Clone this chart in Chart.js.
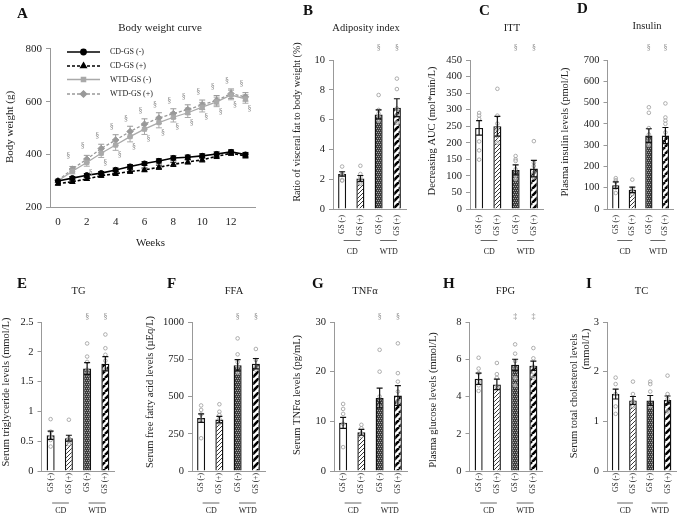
<!DOCTYPE html>
<html>
<head>
<meta charset="utf-8">
<script src="https://cdn.jsdelivr.net/npm/chart.js@4.4.1/dist/chart.umd.min.js"></script>
<style>
  body { margin: 0; background: #fff; }
  #fig { position: relative; width: 681px; height: 515px; overflow: hidden; }
  #fig canvas { position: absolute; left: 0; top: 0; }
</style>
</head>
<body>
<div id="fig">
  <canvas id="cA" width="681" height="515"></canvas>
  <canvas id="cB" width="681" height="515"></canvas>
  <canvas id="cC" width="681" height="515"></canvas>
  <canvas id="cD" width="681" height="515"></canvas>
  <canvas id="cE" width="681" height="515"></canvas>
  <canvas id="cF" width="681" height="515"></canvas>
  <canvas id="cG" width="681" height="515"></canvas>
  <canvas id="cH" width="681" height="515"></canvas>
  <canvas id="cI" width="681" height="515"></canvas>
</div>
<script>
// ---- data: body weight curve (panel A) ----
const weeks = [0, 1, 2, 3, 4, 5, 6, 7, 8, 9, 10, 11, 12, 13];
const weekTicks = [0, 2, 4, 6, 8, 10, 12];
const bwCdMinus = [300, 311, 322, 330, 342, 355, 366, 376, 387, 390, 395, 402, 410, 400];
const bwCdPlus = [290, 297, 308, 320, 328, 336, 342, 352, 363, 372, 380, 393, 405, 395];
const bwWtdMinus = [300, 337, 370, 405, 436, 468, 496, 521, 541, 558, 579, 599, 625, 610];
const bwWtdPlus = [302, 345, 383, 423, 455, 487, 515, 538, 555, 570, 588, 605, 630, 618];
const bwCdMinusSem = [5, 6, 6, 6, 7, 7, 7, 8, 8, 8, 8, 8, 8, 8];
const bwCdPlusSem = [5, 6, 6, 6, 7, 7, 7, 8, 8, 8, 8, 8, 8, 8];
const bwWtdMinusSem = [6, 10, 14, 16, 20, 20, 20, 20, 18, 18, 18, 18, 18, 16];
const bwWtdPlusSem = [6, 10, 14, 16, 20, 20, 20, 20, 18, 18, 18, 18, 18, 16];
const bwSigAbove = ['', '§', '§', '§', '§', '§', '§', '§', '§', '§', '§', '§', '§', '§'];
const bwSigBelow = ['', '', '§', '§', '§', '§', '§', '§', '§', '§', '§', '§', '§', '§'];

// ---- data: bar panels ----
const groups = ['CD GS (-)', 'CD GS (+)', 'WTD GS (-)', 'WTD GS (+)'];
const gsLabels = ['GS (-)', 'GS (+)', 'GS (-)', 'GS (+)'];
const dietLabels = ['CD', 'WTD'];

const adiposityMean = [2.35, 2.05, 6.35, 6.8];
const adipositySem = [0.15, 0.2, 0.3, 0.6];
const adiposityDots = [[2.85, 2.4, 2.3, 1.95, 1.9], [2.9, 2.35, 2.15, 1.8, 1.7], [7.65, 6.65, 6.4, 6.2, 5.9], [8.75, 8.05, 6.75, 6.3, 5.8]];
const adipositySig = ['', '', '§', '§'];

const ittMean = [245, 250, 118, 122];
const ittSem = [22, 30, 15, 25];
const ittDots = [[290, 282, 272, 204, 177, 149], [363, 282, 258, 240, 220, 200], [160, 150, 145, 120, 100, 90], [205, 140, 130, 110, 95]];
const ittSig = ['', '', '§', '§'];

const insulinMean = [112, 90, 345, 345];
const insulinSem = [15, 13, 32, 38];
const insulinDots = [[145, 135, 128, 100, 75], [138, 95, 80, 70], [478, 452, 380, 350, 320, 300], [496, 430, 415, 400, 360]];
const insulinSig = ['', '', '§', '§'];

const tgMean = [0.6, 0.55, 1.72, 1.8];
const tgSem = [0.07, 0.05, 0.1, 0.12];
const tgDots = [[0.87, 0.66, 0.58, 0.52, 0.41], [0.86, 0.55, 0.5, 0.45], [2.14, 1.92, 1.83, 1.7, 1.64], [2.29, 2.06, 1.95, 1.85, 1.7]];
const tgSig = ['', '', '§', '§'];

const ffaMean = [355, 345, 710, 720];
const ffaSem = [28, 22, 38, 35];
const ffaDots = [[440, 410, 380, 340, 220], [448, 398, 376, 350, 320], [890, 783, 730, 700, 660], [819, 745, 700, 680]];
const ffaSig = ['', '', '§', '§'];

const tnfMean = [9.7, 7.8, 14.7, 15.2];
const tnfSem = [1.1, 0.6, 2.0, 2.0];
const tnfDots = [[13.5, 12.5, 11.5, 9.5, 4.8], [9.3, 8.6, 7.6, 7.0], [24.4, 20, 15, 13], [25.7, 19.7, 18, 16, 14]];
const tnfSig = ['', '', '§', '§'];

const fpgMean = [4.95, 4.65, 5.7, 5.65];
const fpgSem = [0.3, 0.28, 0.3, 0.25];
const fpgDots = [[6.08, 5.5, 5.25, 4.8, 4.6, 4.3], [5.8, 5.2, 5.0, 4.5], [6.8, 6.3, 5.9, 5.5, 5.0, 4.6], [6.6, 6.05, 5.6, 5.3, 5.0]];
const fpgSig = ['', '', '‡', '‡'];

const tcMean = [1.55, 1.42, 1.42, 1.43];
const tcSem = [0.1, 0.08, 0.1, 0.08];
const tcDots = [[1.88, 1.75, 1.55, 1.3, 1.15], [1.8, 1.55, 1.4, 1.3], [1.8, 1.75, 1.6, 1.3], [1.92, 1.55, 1.45, 1.2]];
const tcSig = ['', '', '', ''];

// ---- styling helpers ----
const SERIF = "'Liberation Serif', 'Times New Roman', serif";
Chart.defaults.font.family = SERIF;
Chart.defaults.color = '#222';
Chart.defaults.animation = false;
Chart.defaults.plugins.legend.display = false;
Chart.defaults.plugins.tooltip.enabled = false;

function tile(size, draw) {
  const c = document.createElement('canvas');
  c.width = c.height = size;
  const g = c.getContext('2d');
  draw(g, size);
  return g.createPattern(c, 'repeat');
}

const fillHatch = tile(4, (g, s) => {
  g.fillStyle = '#fff'; g.fillRect(0, 0, s, s);
  g.strokeStyle = '#222'; g.lineWidth = 0.9;
  for (const o of [-s, 0, s]) { g.beginPath(); g.moveTo(o, s); g.lineTo(o + s, 0); g.stroke(); }
});
const fillDense = tile(4, (g, s) => {
  g.fillStyle = '#3c3c3c'; g.fillRect(0, 0, s, s);
  g.fillStyle = '#a8a8a8';
  [[0, 0], [2, 0], [1, 2], [3, 2]].forEach(([x, y]) => g.fillRect(x, y, 1, 1));
});
const fillStripe = tile(7, (g, s) => {
  g.fillStyle = '#fff'; g.fillRect(0, 0, s, s);
  g.strokeStyle = '#000'; g.lineWidth = 2.6;
  for (const o of [-s, 0, s]) { g.beginPath(); g.moveTo(o, s); g.lineTo(o + s, 0); g.stroke(); }
});
const barFills = ['#ffffff', fillHatch, fillDense, fillStripe];

function text(ctx, str, x, y, size, opts = {}) {
  ctx.save();
  ctx.font = `${opts.bold ? 'bold ' : ''}${size}px ${SERIF}`;
  ctx.fillStyle = opts.color || '#222';
  ctx.textAlign = opts.align || 'center';
  ctx.textBaseline = opts.baseline || 'middle';
  ctx.translate(x, y);
  if (opts.rotate) ctx.rotate(-Math.PI / 2);
  ctx.fillText(str, 0, 0);
  ctx.restore();
}

function barDecor(p) {
  return {
    id: 'barDecor',
    afterDatasetsDraw(chart) {
      const ctx = chart.ctx, y = chart.scales.y;
      const ds = chart.data.datasets[0];
      const meta = chart.getDatasetMeta(0);
      ctx.save();
      ctx.strokeStyle = '#111';
      ctx.lineWidth = 1.2;
      meta.data.forEach((el, i) => {
        const m = ds.data[i], e = ds.errors[i];
        const y1 = y.getPixelForValue(m + e), y0 = y.getPixelForValue(m - e);
        ctx.beginPath();
        ctx.moveTo(el.x, y0); ctx.lineTo(el.x, y1);
        ctx.moveTo(el.x - 3, y1); ctx.lineTo(el.x + 3, y1);
        ctx.moveTo(el.x - 3, y0); ctx.lineTo(el.x + 3, y0);
        ctx.stroke();
        if (p.sig[i]) text(ctx, p.sig[i], el.x, chart.chartArea.top - p.sigOff, 8, { color: '#8a8a8a' });
      });
      ctx.restore();
    },
    afterDraw(chart) {
      const ctx = chart.ctx;
      const xs = chart.getDatasetMeta(0).data.map(el => el.x);
      text(ctx, p.letter, p.letterX, p.letterY, 15, { bold: true, align: 'left', baseline: 'alphabetic', color: '#111' });
      text(ctx, p.title, p.titleX, p.titleY, 10.5);
      p.yTitle.forEach(t => text(ctx, t[0], t[1], t[2], p.yTitleSize || 10.5, { rotate: true }));
      ctx.save();
      ctx.strokeStyle = '#666';
      ctx.lineWidth = 1;
      [[0, 1], [2, 3]].forEach(([a, b], k) => {
        ctx.beginPath();
        ctx.moveTo(xs[a] + 1.5, p.lineY); ctx.lineTo(xs[b], p.lineY);
        ctx.stroke();
        text(ctx, dietLabels[k], (xs[a] + xs[b]) / 2 + 1, p.textY, 8);
      });
      ctx.restore();
    }
  };
}

function barPanel(id, p) {
  const dots = [];
  p.dots.forEach((vals, i) => vals.forEach(v => dots.push({ x: groups[i], y: v })));
  new Chart(document.getElementById(id), {
    type: 'bar',
    data: {
      labels: groups,
      datasets: [
        {
          type: 'bar', data: p.mean, errors: p.sem,
          backgroundColor: barFills, borderColor: '#111', borderWidth: 1.4,
          grouped: false, barPercentage: 0.44, categoryPercentage: 1, order: 2
        },
        {
          type: 'scatter', data: dots, order: 1,
          pointRadius: 1.8, pointBorderWidth: 0.8,
          pointBorderColor: '#9b9b9b', pointBackgroundColor: 'rgba(255,255,255,0.5)'
        }
      ]
    },
    options: {
      responsive: false,
      layout: { padding: { left: p.ax - 30, right: 681 - p.ax - 73, top: p.top, bottom: 515 - p.bottom - 30 } },
      scales: {
        x: {
          type: 'category', offset: true,
          grid: { display: false, drawTicks: false },
          border: { color: '#999' },
          ticks: {
            autoSkip: false, minRotation: 90, maxRotation: 90, padding: p.tickPad, font: { size: 7.5 },
            callback: (v, i) => gsLabels[i]
          },
          afterFit: s => { s.height = 30; }
        },
        y: {
          min: 0, max: p.max,
          ticks: { stepSize: p.step, padding: 4, font: { size: 10.5 }, callback: v => String(v) },
          grid: { drawOnChartArea: false, tickLength: 4, color: '#999' },
          border: { color: '#999' },
          afterFit: s => { s.width = 30; }
        }
      }
    },
    plugins: [barDecor(p)]
  });
}

// ---- panel A: line chart ----
const bwSeries = [
  { label: 'CD-GS (-)', vals: bwCdMinus, sem: bwCdMinusSem, color: '#000', dash: [], style: 'circle', r: 2.6 },
  { label: 'CD-GS (+)', vals: bwCdPlus, sem: bwCdPlusSem, color: '#000', dash: [3, 2], style: 'triangle', r: 3 },
  { label: 'WTD-GS (-)', vals: bwWtdMinus, sem: bwWtdMinusSem, color: '#a9a9a9', dash: [], style: 'rect', r: 3 },
  { label: 'WTD-GS (+)', vals: bwWtdPlus, sem: bwWtdPlusSem, color: '#999', dash: [3, 2], style: 'rectRot', r: 3.2 }
];

const bwDecor = {
  id: 'bwDecor',
  beforeDatasetsDraw(chart) {
    const ctx = chart.ctx, y = chart.scales.y;
    ctx.save();
    ctx.lineWidth = 1;
    chart.data.datasets.forEach((ds, d) => {
      ctx.strokeStyle = ds.borderColor;
      chart.getDatasetMeta(d).data.forEach((pt, i) => {
        const v = ds.data[i].y, e = ds.errors[i];
        const y1 = y.getPixelForValue(v + e), y0 = y.getPixelForValue(v - e);
        ctx.beginPath();
        ctx.moveTo(pt.x, y0); ctx.lineTo(pt.x, y1);
        ctx.moveTo(pt.x - 3, y1); ctx.lineTo(pt.x + 3, y1);
        ctx.moveTo(pt.x - 3, y0); ctx.lineTo(pt.x + 3, y0);
        ctx.stroke();
      });
    });
    ctx.restore();
  },
  afterDatasetsDraw(chart) {
    const ctx = chart.ctx;
    const up = chart.getDatasetMeta(3).data, low = chart.getDatasetMeta(2).data;
    bwSigAbove.forEach((s, i) => { if (s) text(ctx, s, up[i].x - 4, up[i].y - 13, 8, { color: '#8a8a8a' }); });
    bwSigBelow.forEach((s, i) => { if (s) text(ctx, s, low[i].x + 4, low[i].y + 10, 8, { color: '#8a8a8a' }); });
  },
  afterDraw(chart) {
    const ctx = chart.ctx;
    text(ctx, 'A', 17, 18, 15, { bold: true, align: 'left', baseline: 'alphabetic', color: '#111' });
    text(ctx, 'Body weight curve', 160, 28.5, 11);
    text(ctx, 'Body weight (g)', 10, 127, 11, { rotate: true });
    text(ctx, 'Weeks', 150.5, 243, 11);
    // legend inside the plot
    const rows = [52, 66, 79.5, 94];
    chart.data.datasets.forEach((ds, d) => {
      const yy = rows[d];
      ctx.save();
      ctx.strokeStyle = ds.borderColor;
      ctx.fillStyle = ds.borderColor;
      ctx.lineWidth = ds.borderWidth;
      ctx.setLineDash(ds.borderDash || []);
      ctx.beginPath(); ctx.moveTo(67, yy); ctx.lineTo(100, yy); ctx.stroke();
      ctx.setLineDash([]);
      Chart.helpers.drawPoint(ctx, { pointStyle: ds.pointStyle, radius: ds.pointRadius, rotation: 0, borderWidth: 1 }, 83.5, yy);
      ctx.restore();
      text(ctx, ds.label, 110, yy, 8, { align: 'left' });
    });
  }
};

new Chart(document.getElementById('cA'), {
  type: 'line',
  data: {
    datasets: bwSeries.map(s => ({
      label: s.label,
      data: weeks.map((w, i) => ({ x: w, y: s.vals[i] })),
      errors: s.sem,
      borderColor: s.color, backgroundColor: s.color,
      pointBackgroundColor: s.color, pointBorderColor: s.color,
      borderWidth: s.color === '#000' ? 1.6 : 1.3,
      borderDash: s.dash,
      pointStyle: s.style, pointRadius: s.r, pointBorderWidth: 1,
      tension: 0
    }))
  },
  options: {
    responsive: false,
    layout: { padding: { left: 20, right: 681 - 255, top: 48.7, bottom: 515 - 207.5 - 30 } },
    scales: {
      x: {
        type: 'linear', min: -0.55, max: 13.66,
        afterBuildTicks: s => { s.ticks = weekTicks.map(v => ({ value: v })); },
        grid: { display: false, drawTicks: false },
        border: { color: '#999' },
        ticks: { padding: 8, font: { size: 11 } },
        afterFit: s => { s.height = 30; }
      },
      y: {
        min: 200, max: 800,
        ticks: { stepSize: 200, padding: 4, font: { size: 11 } },
        grid: { drawOnChartArea: false, tickLength: 4, color: '#999' },
        border: { color: '#999' },
        afterFit: s => { s.width = 30; }
      }
    }
  },
  plugins: [bwDecor]
});

// ---- bar panels ----
const topRow = { top: 60, bottom: 209, tickPad: 6, lineY: 240.5, textY: 252, sigOff: 12, titleY: 28 };
const botRow = { top: 322, bottom: 471, tickPad: 2, lineY: 503, textY: 511, sigOff: 5.5, titleY: 291 };

barPanel('cB', Object.assign({}, topRow, {
  ax: 333, max: 10, step: 2, mean: adiposityMean, sem: adipositySem, dots: adiposityDots, sig: adipositySig,
  letter: 'B', letterX: 303, letterY: 15, title: 'Adiposity index', titleX: 366,
  yTitle: [['Ratio of visceral fat to body weight (%)', 297, 122]], yTitleSize: 10
}));
barPanel('cC', Object.assign({}, topRow, {
  ax: 470, max: 450, step: 50, mean: ittMean, sem: ittSem, dots: ittDots, sig: ittSig,
  letter: 'C', letterX: 479, letterY: 15, title: 'ITT', titleX: 512,
  yTitle: [['Decreasing AUC (mol*min/L)', 432, 131]]
}));
barPanel('cD', Object.assign({}, topRow, {
  ax: 607.5, max: 700, step: 100, mean: insulinMean, sem: insulinSem, dots: insulinDots, sig: insulinSig,
  letter: 'D', letterX: 577, letterY: 13, title: 'Insulin', titleX: 647, titleY: 26,
  yTitle: [['Plasma insulin levels (pmol/L)', 565, 132]]
}));
barPanel('cE', Object.assign({}, botRow, {
  ax: 41.5, max: 2.5, step: 0.5, mean: tgMean, sem: tgSem, dots: tgDots, sig: tgSig,
  letter: 'E', letterX: 17, letterY: 288, title: 'TG', titleX: 78.5,
  yTitle: [['Serum triglyceride levels (mmol/L)', 6, 392]]
}));
barPanel('cF', Object.assign({}, botRow, {
  ax: 192, max: 1000, step: 250, mean: ffaMean, sem: ffaSem, dots: ffaDots, sig: ffaSig,
  letter: 'F', letterX: 167, letterY: 288, title: 'FFA', titleX: 234,
  yTitle: [['Serum free fatty acid levels (µEq/L)', 150, 392]]
}));
barPanel('cG', Object.assign({}, botRow, {
  ax: 334, max: 30, step: 10, mean: tnfMean, sem: tnfSem, dots: tnfDots, sig: tnfSig,
  letter: 'G', letterX: 312, letterY: 288, title: 'TNFα', titleX: 365,
  yTitle: [['Serum TNFα levels (pg/mL)', 297.5, 395]]
}));
barPanel('cH', Object.assign({}, botRow, {
  ax: 469.5, max: 8, step: 2, mean: fpgMean, sem: fpgSem, dots: fpgDots, sig: fpgSig,
  letter: 'H', letterX: 443, letterY: 288, title: 'FPG', titleX: 505.5,
  yTitle: [['Plasma glucose levels (mmol/L)', 433, 400]]
}));
barPanel('cI', Object.assign({}, botRow, {
  ax: 607, max: 3, step: 1, mean: tcMean, sem: tcSem, dots: tcDots, sig: tcSig,
  letter: 'I', letterX: 586, letterY: 288, title: 'TC', titleX: 641.5,
  yTitle: [['Serum total cholesterol levels', 574, 396], ['(mmol/L)', 586, 349]]
}));
</script>
</body>
</html>
